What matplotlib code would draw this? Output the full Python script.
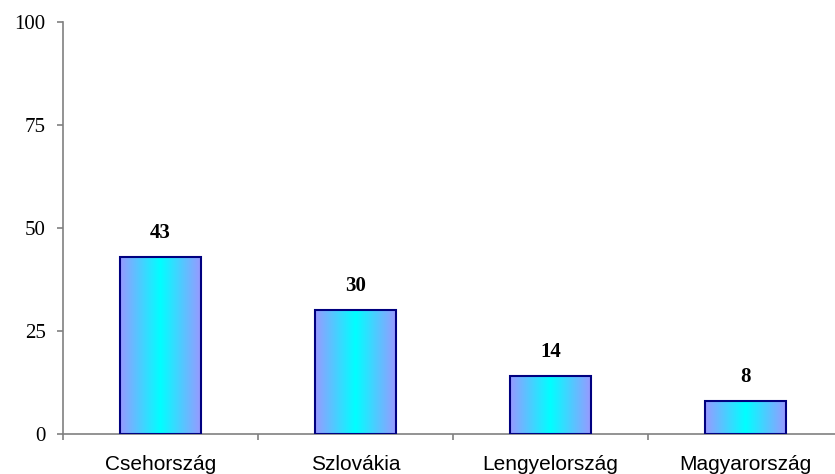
import numpy as np
import matplotlib.pyplot as plt
from matplotlib.colors import LinearSegmentedColormap

# data
countries = ["Csehország", "Szlovákia", "Lengyelország", "Magyarország"]
values = [43, 30, 14, 8]
yticks = [0, 25, 50, 75, 100]

fig = plt.figure(figsize=(8.35, 4.74), dpi=100)
ax = fig.add_axes([0.0754, 0.0844, 0.934, 0.870])

x = np.arange(len(countries))
width = 0.415

cmap = LinearSegmentedColormap.from_list("grad", ["#9999ff", "#00ffff", "#9999ff"])
grad = np.linspace(0, 1, 256).reshape(1, -1)

bars = ax.bar(x, values, width=width, color="none", edgecolor="#000080", linewidth=1.5, zorder=3)
for b in bars:
    x0, y0 = b.get_x(), b.get_y()
    im = ax.imshow(grad, cmap=cmap, aspect="auto", extent=[x0, x0 + b.get_width(), y0, y0 + b.get_height()], zorder=2)
    im.set_clip_path(b)

# value labels
for xi, v in zip(x, values):
    ax.text(xi, v + 4.6, str(v), ha="center", va="baseline", fontsize=15, fontweight="bold", family="Liberation Serif")

ax.set_xlim(-0.5, len(countries) - 0.5)
ax.set_ylim(0, 100)
ax.set_yticks(yticks)
ax.set_yticklabels([str(t) for t in yticks], family="Liberation Serif", fontsize=15)
ax.set_xticks(np.arange(len(countries) + 1) - 0.5)
ax.set_xticklabels([])
ax.set_xticks(x, minor=True)
ax.set_xticklabels(countries, minor=True, family="Liberation Sans", fontsize=15)
ax.tick_params(axis="x", which="minor", length=0, pad=15)
ax.tick_params(axis="x", which="major", length=4.5, color="#808080", width=1.2, direction="out")
ax.tick_params(axis="y", length=4.5, color="#808080", width=1.2, direction="out", pad=8)

for s in ["top", "right"]:
    ax.spines[s].set_visible(False)
for s in ["left", "bottom"]:
    ax.spines[s].set_color("#808080")
    ax.spines[s].set_linewidth(1.2)

fig.savefig("out.png", dpi=100)
